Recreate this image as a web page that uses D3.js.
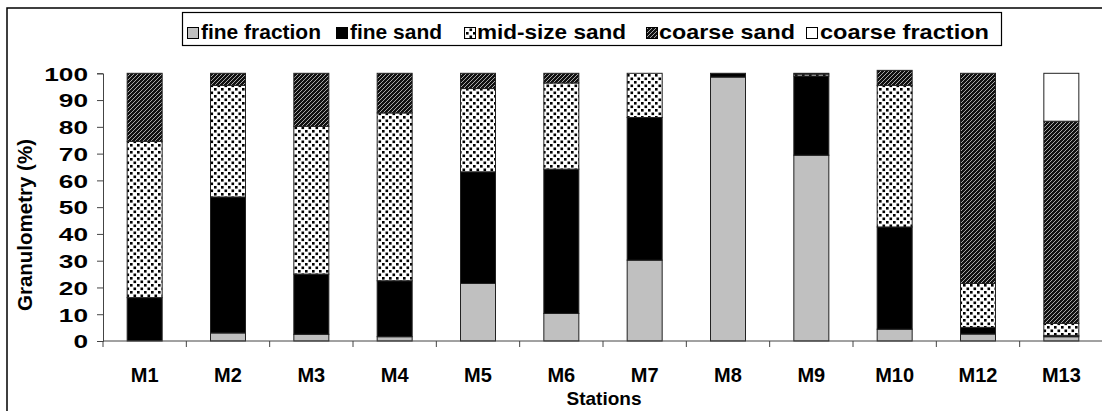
<!DOCTYPE html>
<html><head><meta charset="utf-8">
<script src="https://cdn.jsdelivr.net/npm/d3@7/dist/d3.min.js"></script>
<style>body{margin:0;background:#fff}svg{display:block}text{font-family:"Liberation Sans",Arial,sans-serif;font-weight:bold}</style>
</head><body>
<svg id="c" width="1102" height="411"></svg>
<script>
const stations = ["M1","M2","M3","M4","M5","M6","M7","M8","M9","M10","M12","M13"];
const seriesNames = ["fine fraction","fine sand","mid-size sand","coarse sand","coarse fraction"];
const fineFraction   = [0,   3,   2.5, 1.6, 21.5, 10.3, 30.2, 98.6, 69.4, 4.4,  2.6,  1.6];
const fineSand       = [16.2,50.8,22.5,20.9,41.7, 53.9, 53.3, 1.4,  29.6, 38.2, 2.5,  0.5];
const midSizeSand    = [58.4,41.7,55.2,62.7,31.1, 32.2, 16.5, 0,    0.7,  52.9, 16.4, 4.5];
const coarseSand     = [25.4,4.5, 19.8,14.8,5.7,  3.6,  0,    0,    0.3,  5.6,  78.5, 75.5];
const coarseFraction = [0,   0,   0,   0,   0,    0,    0,    0,    0,    0,    0,    17.9];
const yTicks = [0,10,20,30,40,50,60,70,80,90,100];

const svg = d3.select("#c");
const defs = svg.append("defs");
// mid-size sand pattern
const pm = defs.append("pattern").attr("id","pMid").attr("patternUnits","userSpaceOnUse").attr("width",7).attr("height",7);
pm.append("rect").attr("width",7).attr("height",7).attr("fill","#fff");
pm.append("rect").attr("x",0.5).attr("y",0.5).attr("width",2.6).attr("height",2.6).attr("fill","#000");
pm.append("rect").attr("x",4).attr("y",4).attr("width",2.6).attr("height",2.6).attr("fill","#000");
// coarse sand pattern
const pc = defs.append("pattern").attr("id","pCoarse").attr("patternUnits","userSpaceOnUse").attr("width",4).attr("height",4);
pc.append("rect").attr("width",4).attr("height",4).attr("fill","#111");
pc.append("path").attr("d","M-1,1 L1,-1 M0,4 L4,0 M3,5 L5,3").attr("stroke","#b8b8b8").attr("stroke-width",0.9);

const fills = ["#c0c0c0","#000","url(#pMid)","url(#pCoarse)","#fff"];

// outer frame
svg.append("path").attr("d","M7,411 L7,8 L1102,8").attr("fill","none").attr("stroke","#000").attr("stroke-width",1.5);

const x = d3.scaleBand().domain(stations).range([103,1103]).padding(0);
const y = d3.scaleLinear().domain([0,100]).range([341,73.3]);
const bw = x.bandwidth()*0.42;

const rows = stations.map((s,i)=>({station:s, "fine fraction":fineFraction[i], "fine sand":fineSand[i], "mid-size sand":midSizeSand[i], "coarse sand":coarseSand[i], "coarse fraction":coarseFraction[i]}));
const stacked = d3.stack().keys(seriesNames)(rows);

const g = svg.append("g");
stacked.forEach((layer,k)=>{
  g.selectAll(null).data(layer.filter(d=>d[1]-d[0]>0)).enter().append("rect")
    .attr("x",d=>x(d.data.station)+(x.bandwidth()-bw)/2)
    .attr("width",bw)
    .attr("y",d=>y(d[1]))
    .attr("height",d=>y(d[0])-y(d[1]))
    .attr("fill",fills[k])
    .attr("stroke","#222").attr("stroke-width",1);
});

// y axis
const ya = svg.append("g").attr("transform","translate(103,0)")
  .call(d3.axisLeft(y).tickValues(yTicks).tickSize(6).tickPadding(9));
ya.select(".domain").attr("stroke","#444");
ya.selectAll(".tick line").attr("stroke","#444");
ya.selectAll("text").attr("font-size",18).attr("fill","#000")
  .attr("textLength",d=>String(d).length*14.6).attr("lengthAdjust","spacingAndGlyphs")
  .attr("dy","0.38em")
  .style("font-weight","bold").style("font-family","Liberation Sans, Arial, sans-serif");

// x axis
const xa = svg.append("g").attr("transform","translate(0,341)");
xa.append("line").attr("x1",103).attr("x2",1102).attr("y1",0).attr("y2",0).attr("stroke","#444");
const bounds = stations.map(s=>x(s)).concat([x(stations[stations.length-1])+x.step()]);
xa.selectAll(null).data(bounds).enter().append("line")
  .attr("x1",d=>d).attr("x2",d=>d).attr("y1",0).attr("y2",6).attr("stroke","#444");
xa.selectAll(null).data(stations).enter().append("text")
  .attr("x",d=>x(d)+x.bandwidth()/2).attr("y",41).attr("text-anchor","middle")
  .attr("font-size",20).text(d=>d);

svg.append("text").attr("x",604).attr("y",405).attr("text-anchor","middle").attr("font-size",19).text("Stations");
svg.append("text").attr("transform","translate(32,225) rotate(-90)").attr("text-anchor","middle").attr("font-size",20.5).text("Granulometry (%)");

// legend
const lg = svg.append("g");
lg.append("rect").attr("x",182.5).attr("y",12.5).attr("width",819).attr("height",33).attr("fill","#fff").attr("stroke","#000").attr("stroke-width",1.2);
const legSw = [187,336,464,646,806];
const legTx = [[201,120],[350,92],[477,149],[659,136],[820,169]];
seriesNames.forEach((n,k)=>{
  lg.append("rect").attr("x",legSw[k]+0.5).attr("y",27.5).attr("width",11).attr("height",11).attr("fill",fills[k]).attr("stroke","#000").attr("stroke-width",1);
  lg.append("text").attr("x",legTx[k][0]).attr("y",38.5).attr("font-size",21)
    .attr("textLength",legTx[k][1]).attr("lengthAdjust","spacingAndGlyphs").text(n);
});
</script>
</body></html>
